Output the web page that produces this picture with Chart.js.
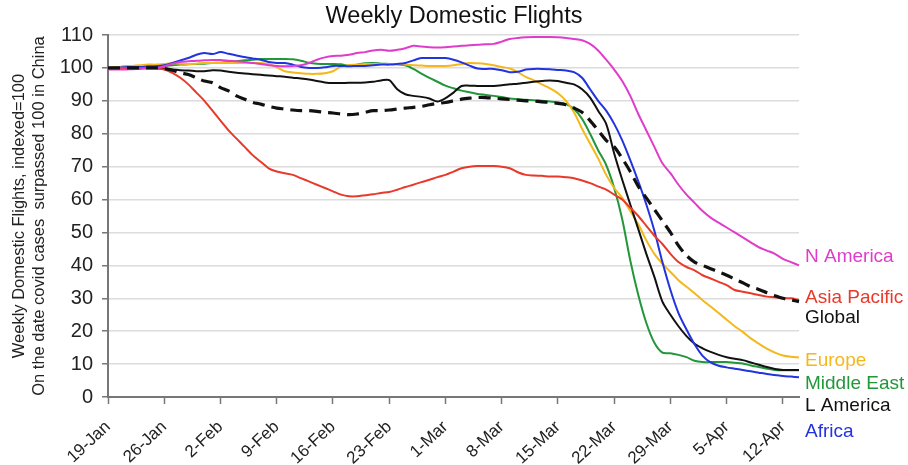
<!DOCTYPE html>
<html>
<head>
<meta charset="utf-8">
<title>Weekly Domestic Flights</title>
<script src="https://cdn.jsdelivr.net/npm/chart.js@4"></script>
<style>
    html, body { margin: 0; padding: 0; background: #fff; }
    canvas { display: block; }
</style>
</head>
<body>
<canvas id="chart" width="908" height="465"></canvas>
<script>
const FONT = '"Liberation Sans", Arial, sans-serif';
const titleText = 'Weekly Domestic Flights';
const yTitle = ['Weekly Domestic Flights, indexed=100', 'On the date covid cases  surpassed 100 in China'];

// daily categories, 19-Jan .. 14-Apr (2020)
const firstDay = new Date(2020, 0, 19);
const dayCount = 87;
const monthNames = ['Jan', 'Feb', 'Mar', 'Apr'];
const days = [];
for (let i = 0; i < dayCount; i++) {
    let d = new Date(firstDay.getFullYear(), firstDay.getMonth(), firstDay.getDate() + i);
    days.push(d.getDate() + '-' + monthNames[d.getMonth()]);
}

const globalIdx = [
    100, 100, 100, 100, 100, 100, 100,
    99.8, 99.3, 98.5, 98, 97, 96, 95.5,
    94, 93, 91.5, 90.5, 89.5, 89, 88.3,
    87.8, 87.5, 87.2, 87, 87, 86.8, 86.5,
    86.3, 86, 85.8, 86, 86.5, 87, 87,
    87.2, 87.5, 87.8, 88, 88.3, 88.8, 89.2,
    89.5, 90, 90.5, 90.8, 91, 91, 90.8,
    90.6, 90.4, 90.2, 90, 89.9, 89.7, 89.5,
    89.2, 88.8, 87.8, 86.5, 84, 81, 78,
    76, 72.5, 68.5, 64, 60.5, 57, 53.5,
    50, 46, 43, 41, 40, 39, 38,
    37, 35.8, 34.7, 33.5, 32.7, 31.7, 30.8,
    30, 29.5, 29
];
const nAmerica = [
    99.5, 99.5, 99.5, 99.6, 99.7, 99.8, 100,
    100.5, 101.3, 101.8, 102, 102.2, 102.3, 102.4,
    102.4, 102.2, 102, 101.8, 101.5, 101.2, 100.8,
    100.6, 100.5, 100.6, 100.8, 101.5, 102.5, 103.2,
    103.6, 103.7, 104, 104.5, 104.8, 105.3, 105.5,
    105.2, 105.5, 106, 106.7, 106.5, 106.3, 106.2,
    106.3, 106.5, 106.7, 106.9, 107, 107.2, 107.3,
    108, 108.8, 109.1, 109.3, 109.4, 109.4, 109.4,
    109.3, 109.1, 108.8, 108.4, 107.3, 105.3, 102.5,
    99.5, 96, 91.5, 86, 81, 76, 71,
    68, 64.5, 61.5, 59, 56.5, 54.5, 53,
    51.5, 50, 48.5, 47, 45.5, 44.5, 43.5,
    42, 41, 40
];
const asiaPacific = [
    100, 100, 100, 100, 100, 100, 99.8,
    99.5, 98.5, 97, 95, 92.5, 90, 87,
    84, 81, 78.5, 76, 73.5, 71.5, 69.5,
    68.5, 68, 67.5, 66.5, 65.5, 64.5, 63.5,
    62.5, 61.5, 61, 61, 61.3, 61.6, 62,
    62.3, 63, 63.8, 64.5, 65.3, 66, 66.8,
    67.5, 68.5, 69.5, 70, 70.2, 70.2, 70.2,
    70, 69.5, 68.3, 67.5, 67.3, 67.2, 67,
    67, 66.8, 66.5, 65.8, 65, 64, 63,
    61.5, 60, 57.5, 55, 52, 49, 46.5,
    43.5, 41, 39.5, 38.5, 37, 36, 35,
    34, 32.5, 32, 31.5, 31, 30.5, 30.3,
    30, 30, 29.5
];
const europe = [
    100, 100.2, 100.4, 100.6, 100.8, 101, 101,
    101.2, 101.4, 101.3, 101.2, 101.3, 101.5, 101.5,
    101.5, 101.5, 101.5, 101.5, 101.5, 101.5, 101.2,
    100.2, 99, 98.6, 98.4, 98.2, 98.2, 98.4,
    99, 100.4, 100.8, 101, 101.2, 101.2, 101.2,
    101.2, 101.2, 101, 100.8, 100.7, 100.6, 100.6,
    100.6, 100.8, 101.2, 101.5, 101.4, 101.2, 100.8,
    100.3, 99.8, 98.7, 97.3, 96.2, 95, 93.8,
    92.3, 90, 86.5, 81.5, 77, 72.5, 67.5,
    63.5, 60.5, 56.5, 52.5, 47.6, 43.5, 40.5,
    38, 35.5, 33.5, 31.5, 29.4, 27.5, 25.5,
    23.5, 21.5, 19.8, 17.8, 16.2, 14.7, 13.5,
    12.6, 12.2, 12
];
const middleEast = [
    100, 100.2, 100.4, 100.6, 100.6, 100.6, 100.6,
    100.6, 100.8, 101, 101.1, 101.2, 101.3, 101.5,
    101.6, 101.8, 102, 102.3, 102.5, 102.7, 102.7,
    102.7, 102.7, 102.6, 102.2, 101.6, 101.3, 101.2,
    101.2, 101.1, 100.7, 101, 101.4, 101.5, 101.3,
    101.2, 101.1, 100.8, 99.7, 98.3, 97, 95.8,
    94.6, 93.8, 93.1, 92.6, 92.1, 91.8, 91.5,
    91.2, 90.7, 90.5, 90.3, 90.2, 90, 89.8,
    89.5, 89, 87.5, 84.5, 80, 75, 70.5,
    63.5, 54, 41.5, 31, 22.5, 16.5, 13.5,
    13.3, 12.8, 12.1, 11, 10.6, 10.6, 10.6,
    10.6, 10.4, 10.2, 9.6, 9.1, 8.6, 8.2,
    8.1, 8.1, 8.1
];
const lAmerica = [
    100, 100, 100, 100, 100, 100, 100,
    99.8, 99.5, 99.3, 99.2, 99, 99, 99.3,
    99.2, 98.8, 98.5, 98.3, 98.1, 97.9, 97.7,
    97.5, 97.3, 97, 96.8, 96.5, 96, 95.6,
    95.4, 95.4, 95.5, 95.5, 95.6, 95.8, 96.2,
    96.3, 93.5, 92, 91.5, 91.2, 90.7, 89.8,
    90.8, 92.5, 94.5, 94.6, 94.5, 94.5, 94.5,
    94.7, 95, 95.2, 95.5, 95.8, 96, 96.2,
    96, 95.5, 95, 93.5, 91, 87, 83,
    74, 66, 58.5, 51, 43.5, 36.5, 29,
    25, 21.5, 18.5, 16.2, 14.8, 13.7, 12.8,
    12.1, 11.6, 11.2, 10.5, 9.8, 9.1, 8.5,
    8.2, 8.2, 8.2
];
const africa = [
    100, 100, 100.2, 100.3, 100.3, 100.4, 100.5,
    100.8, 101.5, 102.3, 103, 104, 104.5, 104.2,
    104.8, 104.3, 103.8, 103.3, 102.9, 102.5, 101.8,
    101.5, 101.5, 101, 100.3, 100, 100, 100.2,
    100.6, 100.6, 100.5, 100.6, 100.6, 100.8, 101,
    101, 101.2, 101.5, 102.3, 103, 103, 103,
    103, 102.5, 101.7, 100.7, 99.8, 99.7, 99.7,
    99.3, 98.7, 98.8, 99.5, 99.7, 99.7, 99.6,
    99.4, 99.2, 98.7, 97, 93.5, 90, 87,
    83, 78, 72, 65.5, 58.5, 50.5, 41,
    32.5, 25.5, 20.5, 16, 12.5, 10.5, 9.5,
    9, 8.6, 8.2, 7.8, 7.4, 7, 6.7,
    6.4, 6.2, 6
];

// end-of-line labels, listed top to bottom as in the original
const seriesNames = ['N America', 'Asia Pacific', 'Global', 'Europe', 'Middle East', 'L America', 'Africa'];
const seriesColors = ['#e03ccb', '#e8392b', '#111111', '#f4b81c', '#22973a', '#111111', '#2233e0'];
const labelLevels = [42.7, 30.3, 24, 10.9, 3.9, -2.7, -10.6];

function lineSet(label, data, color, dashed) {
    return {
        label: label,
        data: data,
        borderColor: color,
        borderWidth: dashed ? 3.2 : 2,
        borderDash: dashed ? [12, 7] : [],
        pointRadius: 0,
        tension: 0.3,
        fill: false
    };
}

const sideText = {
    id: 'sideText',
    afterDraw: function (chart) {
        let ctx = chart.ctx;
        let area = chart.chartArea;
        let y = chart.scales.y;
        ctx.save();
        ctx.textBaseline = 'middle';
        ctx.fillStyle = '#111';
        ctx.textAlign = 'center';
        ctx.font = '23.5px ' + FONT;
        ctx.fillText(titleText, chart.width / 2, 17);
        ctx.textAlign = 'left';
        ctx.font = '19px ' + FONT;
        seriesNames.forEach(function (name, i) {
            ctx.fillStyle = seriesColors[i];
            ctx.fillText(name, area.right + 6, y.getPixelForValue(labelLevels[i]));
        });
        ctx.restore();
    }
};

new Chart(document.getElementById('chart'), {
    type: 'line',
    data: {
        labels: days,
        datasets: [
            lineSet('Global', globalIdx, '#111111', true),
            lineSet('N America', nAmerica, '#e03ccb'),
            lineSet('Asia Pacific', asiaPacific, '#e8392b'),
            lineSet('Africa', africa, '#2233e0'),
            lineSet('L America', lAmerica, '#111111'),
            lineSet('Europe', europe, '#f4b81c'),
            lineSet('Middle East', middleEast, '#22973a')
        ]
    },
    options: {
        responsive: false,
        animation: false,
        layout: { padding: { top: 35, right: 109, left: 0, bottom: 0 } },
        plugins: {
            legend: { display: false },
            title: { display: false },
            tooltip: { enabled: false }
        },
        scales: {
            x: {
                type: 'category',
                offset: false,
                border: { display: true, color: '#777', width: 2 },
                grid: {
                    drawOnChartArea: false,
                    drawTicks: true,
                    tickLength: 7,
                    tickWidth: 1.5,
                    tickColor: function (c) { return c.index % 7 === 0 ? '#777' : 'rgba(0,0,0,0)'; }
                },
                ticks: {
                    autoSkip: false,
                    minRotation: 43,
                    maxRotation: 43,
                    padding: 13,
                    color: '#222',
                    font: { family: FONT, size: 17 },
                    callback: function (v, i) { return i % 7 === 0 ? days[i] : ''; }
                },
                afterFit: function (s) { s.height = 68; }
            },
            y: {
                min: 0,
                max: 110,
                border: { display: true, color: '#777', width: 2 },
                grid: { color: '#dcdcdc', lineWidth: 1.5, tickLength: 6, tickColor: '#777', tickWidth: 1.5 },
                ticks: {
                    stepSize: 10,
                    padding: 9,
                    color: '#222',
                    font: { family: FONT, size: 20 }
                },
                title: {
                    display: true,
                    text: yTitle,
                    color: '#222',
                    padding: { top: 10, bottom: 0 },
                    font: { family: FONT, size: 16.5, lineHeight: 1.2 }
                },
                afterFit: function (s) { s.width = 108; }
            }
        }
    },
    plugins: [sideText]
});
</script>
</body>
</html>
